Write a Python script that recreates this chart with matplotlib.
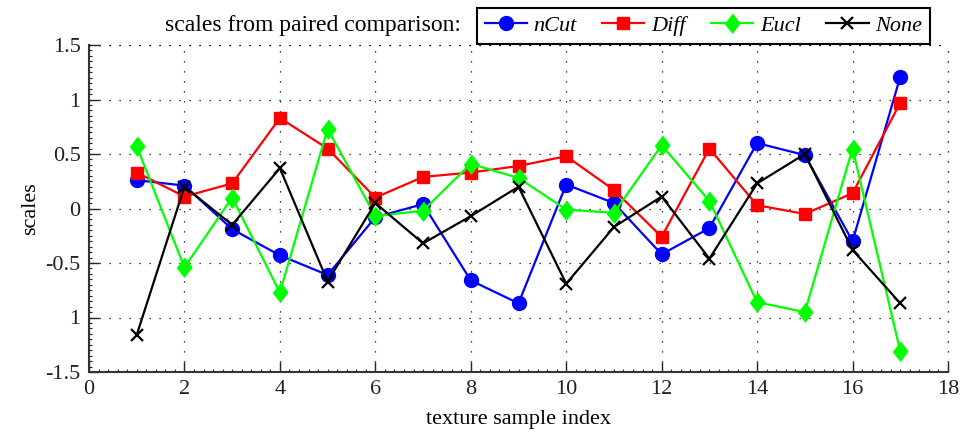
import numpy as np
import matplotlib
matplotlib.use("Agg")
import matplotlib.pyplot as plt
import matplotlib.ticker as ticker

plt.rcParams["font.family"] = ["Liberation Serif", "DejaVu Serif"]

# ── Data ───────────────────────────────────────────────────────────────────────
idx = np.arange(1, 18)

ncut = [0.26, 0.21, -0.19, -0.43, -0.61, -0.08, 0.04, -0.66, -0.87,
        0.22, 0.05, -0.42, -0.18, 0.60, 0.49, -0.30, 1.21]
diff = [0.33, 0.11, 0.23, 0.83, 0.55, 0.10, 0.29, 0.33, 0.39,
        0.48, 0.17, -0.26, 0.55, 0.03, -0.05, 0.14, 0.97]
eucl = [0.57, -0.54, 0.10, -0.77, 0.73, -0.07, -0.02, 0.41, 0.28,
        -0.01, -0.04, 0.58, 0.07, -0.86, -0.95, 0.55, -1.31]
none = [-1.16, 0.20, -0.15, 0.37, -0.67, 0.05, -0.32, -0.07, 0.20,
        -0.69, -0.17, 0.11, -0.46, 0.23, 0.50, -0.38, -0.87]

yticks = [1.5, 1, 0.5, 0, -0.5, -1, -1.5]
ytick_labels = ["1.5", "1", "0.5", "0", "-0.5", "1", "-1.5"]
xticks = [0, 2, 4, 6, 8, 10, 12, 14, 16, 18]

# ── Plot ───────────────────────────────────────────────────────────────────────
fig = plt.figure(figsize=(9.6, 4.32), dpi=100)
ax = fig.add_axes([89 / 960, 1 - 372 / 432, (948 - 89) / 960, (372 - 45) / 432])

diamond = [(0, 1), (0.78, 0), (0, -1), (-0.78, 0)]

ax.plot(idx, ncut, color="#0000ff", lw=1.6, marker="o", ms=10, label="nCut")
ax.plot(idx, diff, color="#ff0000", lw=1.6, marker="s", ms=9, label="Diff")
ax.plot(idx, eucl, color="#00ff00", lw=1.6, marker=diamond, ms=13.5, label="Eucl")
ax.plot(idx, none, color="black", lw=1.6, marker="x", ms=9, mew=1.6, label="None")

ax.set_xlim(0, 18)
ax.set_ylim(-1.5, 1.5)
ax.set_xticks(xticks)
ax.set_yticks(yticks)
ax.set_yticklabels(ytick_labels)
ax.xaxis.set_minor_locator(ticker.MultipleLocator(0.2))
ax.yaxis.set_minor_locator(ticker.MultipleLocator(0.05))
ax.tick_params(which="both", direction="in", top=False, right=False,
               labelsize=16, colors="#222222")
ax.tick_params(which="major", length=7, width=1, pad=6)
ax.tick_params(which="minor", length=2.5, width=0.8)

for s in ["top", "right"]:
    ax.spines[s].set_visible(False)
for s in ["left", "bottom"]:
    ax.spines[s].set_linewidth(1.5)
    ax.spines[s].set_color("#333333")

dots = (0, (1, 7))
ax.grid(True, which="major", color="black", linestyle=dots, lw=0.9)
# dotted edge at the top and right, like the grid
ax.axhline(1.5, color="black", linestyle=dots, lw=0.9, clip_on=False)
ax.axvline(18, color="black", linestyle=dots, lw=0.9, clip_on=False)

ax.set_xlabel("texture sample index", fontsize=16, labelpad=8)
ax.set_ylabel("scales", fontsize=16, labelpad=4)

leg = fig.legend(loc="lower right", bbox_to_anchor=(930 / 960, 1 - 44 / 432),
                 ncol=4, frameon=True, fancybox=False, framealpha=1,
                 edgecolor="black", prop={"style": "italic", "size": 16},
                 handlelength=1.9, columnspacing=1.15, handletextpad=0.3,
                 borderpad=0.35, borderaxespad=0)
leg.get_frame().set_linewidth(1.5)

fig.text(461 / 960, 1 - 26 / 432, "scales from paired comparison:",
         ha="right", va="center", fontsize=17)

plt.savefig("out.png", dpi=100)
